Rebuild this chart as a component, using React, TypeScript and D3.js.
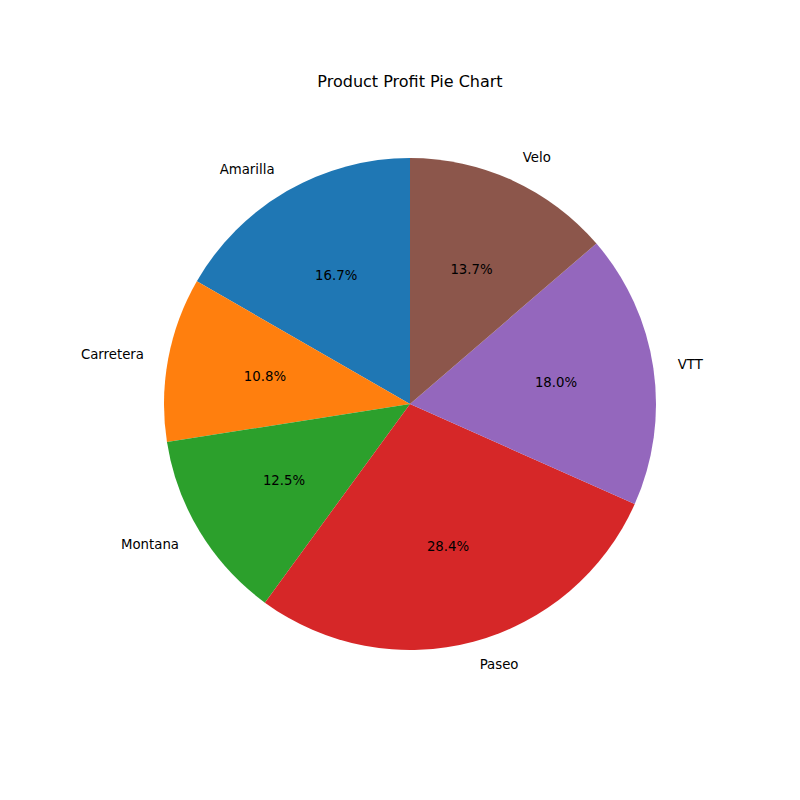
import * as d3 from "d3";

const products = ["Amarilla", "Carretera", "Montana", "Paseo", "VTT", "Velo"];
const shares = [16.7, 10.8, 12.5, 28.4, 18.0, 13.7];
const colors = ["#1f77b4", "#ff7f0e", "#2ca02c", "#d62728", "#9467bd", "#8c564b"];

export default function App() {
  const cx = 410, cy = 404, r = 246;
  const data = products.map((p, i) => ({ name: p, value: shares[i], color: colors[i] }));
  // counterclockwise from 12 o'clock, like matplotlib startangle=90
  const arcs = d3.pie<any>().sort(null).value(d => d.value).startAngle(0).endAngle(-2 * Math.PI)(data);
  const arc = d3.arc<any>().innerRadius(0).outerRadius(r);
  const font = "DejaVu Sans, sans-serif";

  return (
    <svg width={800} height={800} style={{ display: "block", margin: -8 }} fontFamily={font}>
      <rect width={800} height={800} fill="white" />
      <text x={410} y={82} fontSize={16} textAnchor="middle" dominantBaseline="middle">
        Product Profit Pie Chart
      </text>
      <g transform={`translate(${cx},${cy})`}>
        {arcs.map((a, i) => {
          const mid = (a.startAngle + a.endAngle) / 2;
          const sx = Math.sin(mid), sy = -Math.cos(mid);
          return (
            <g key={i}>
              <path d={arc(a) as string} fill={a.data.color} />
              <text x={sx * r * 0.6} y={sy * r * 0.6} fontSize={13.3}
                textAnchor="middle" dominantBaseline="middle">
                {a.data.value.toFixed(1)}%
              </text>
              <text x={sx * r * 1.1} y={sy * r * 1.1} fontSize={13.3}
                textAnchor={sx > 0 ? "start" : "end"} dominantBaseline="middle">
                {a.data.name}
              </text>
            </g>
          );
        })}
      </g>
    </svg>
  );
}
